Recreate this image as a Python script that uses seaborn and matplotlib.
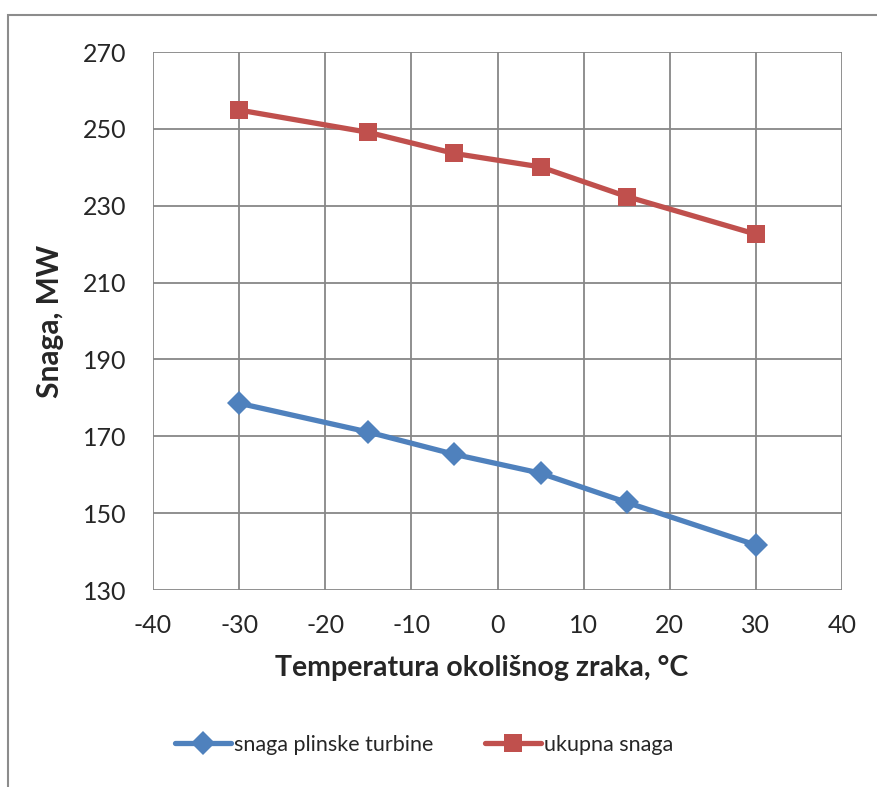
import pandas as pd
import seaborn as sns
import matplotlib.pyplot as plt
from matplotlib.patches import Rectangle

temperatura = [-30, -15, -5, 5, 15, 30]
snaga_plinske = [178.6, 171.1, 165.3, 160.4, 152.8, 141.7]
ukupna_snaga = [254.9, 249.1, 243.6, 240.1, 232.4, 222.6]
serije = ['snaga plinske turbine', 'ukupna snaga']

df = pd.DataFrame({
    'T': temperatura * 2,
    'P': snaga_plinske + ukupna_snaga,
    'serija': [serije[0]] * len(temperatura) + [serije[1]] * len(temperatura),
})

sns.set_style('white')
plt.rcParams['font.family'] = ['Lato', 'DejaVu Sans']
plt.rcParams['axes.unicode_minus'] = False

fig = plt.figure(figsize=(8.78, 7.87), dpi=100)
ax = fig.add_axes([0.1743, 0.2503, 0.7847, 0.6836])

# okvir grafikona (kao u Excelu)
fig.patches.append(Rectangle((8 / 878, -0.1), 1.2, 1 - 15 / 787 + 0.1,
                             transform=fig.transFigure, fill=False,
                             edgecolor='#8c8c8c', linewidth=1.5))

sns.lineplot(data=df, x='T', y='P', hue='serija', style='serija',
             palette=['#4F81BD', '#C0504D'], markers=['D', 's'], dashes=False,
             linewidth=3.8, markersize=12.5, markeredgewidth=0, ax=ax)

ax.set_xlim(-40, 40)
ax.set_ylim(130, 270)
ax.set_xticks(range(-40, 41, 10))
ax.set_yticks(range(130, 271, 20))
ax.grid(True, color='#878787', linewidth=1.3)
for s in ax.spines.values():
    s.set_visible(False)
ax.tick_params(axis='both', length=7, width=1.3, color='#878787',
               direction='out', labelsize=18)
ax.tick_params(axis='y', pad=12)
ax.tick_params(axis='x', pad=10)

ax.set_xlabel('Temperatura okolišnog zraka, °C', fontsize=20.5, fontweight='bold',
              labelpad=13)
ax.xaxis.label.set_x(0.4775)
ax.set_ylabel('Snaga, MW', fontsize=21.5, fontweight='bold', labelpad=14)

leg = ax.legend(loc='center', bbox_to_anchor=(424 / 878, 1 - 745 / 787),
                bbox_transform=fig.transFigure, ncol=2, frameon=False,
                fontsize=15.5, handlelength=2.6, handletextpad=0.15,
                columnspacing=2.4)

fig.savefig('out.png', dpi=100)
